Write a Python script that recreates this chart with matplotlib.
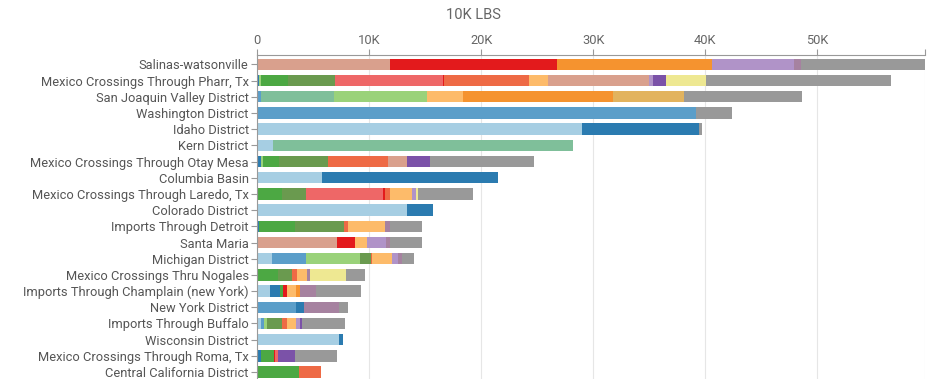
import matplotlib
matplotlib.use("Agg")
import matplotlib.pyplot as plt

plt.rcParams['font.family'] = ['Roboto', 'DejaVu Sans']

# ---- data (values in thousands of lbs) ----
districts = [
    "Salinas-watsonville",
    "Mexico Crossings Through Pharr, Tx",
    "San Joaquin Valley District",
    "Washington District",
    "Idaho District",
    "Kern District",
    "Mexico Crossings Through Otay Mesa",
    "Columbia Basin",
    "Mexico Crossings Through Laredo, Tx",
    "Colorado District",
    "Imports Through Detroit",
    "Santa Maria",
    "Michigan District",
    "Mexico Crossings Thru Nogales",
    "Imports Through Champlain (new York)",
    "New York District",
    "Imports Through Buffalo",
    "Wisconsin District",
    "Mexico Crossings Through Roma, Tx",
    "Central California District",
]

salinas_keys = ["pink", "red", "orange", "lavender", "mauve", "gray"]
salinas_vals = [11.9, 14.9, 13.8, 7.3, 0.6, 11.1]

pharr_keys = ["dark_blue", "light_green", "green", "olive", "salmon", "red", "orange_red",
              "light_orange", "pink", "lavender", "purple", "yellow", "gray"]
pharr_vals = [0.15, 0.2, 2.45, 4.2, 9.6, 0.1, 7.6, 1.7, 9.0, 0.3, 1.2, 3.6, 16.5]

sanjoaquin_keys = ["mid_blue", "teal", "light_green", "light_orange", "orange", "tan", "gray"]
sanjoaquin_vals = [0.36, 6.54, 8.3, 3.2, 13.4, 6.3, 10.5]

washington_keys = ["mid_blue", "gray"]
washington_vals = [39.2, 3.2]

idaho_keys = ["light_blue", "dark_blue", "gray"]
idaho_vals = [29.0, 10.4, 0.3]

kern_keys = ["light_blue", "teal"]
kern_vals = [1.4, 26.8]

otay_keys = ["dark_blue", "light_green", "green", "olive", "orange_red", "pink", "purple", "gray"]
otay_vals = [0.36, 0.14, 1.5, 4.3, 5.4, 1.7, 2.0, 9.3]

columbia_keys = ["light_blue", "dark_blue"]
columbia_vals = [5.8, 15.7]

laredo_keys = ["green", "olive", "salmon", "red", "orange_red", "light_orange", "lavender",
               "yellow", "gray"]
laredo_vals = [2.2, 2.2, 6.8, 0.2, 0.5, 1.9, 0.4, 0.2, 4.9]

colorado_keys = ["light_blue", "dark_blue"]
colorado_vals = [13.4, 2.3]

detroit_keys = ["dark_blue", "green", "olive", "orange_red", "light_orange", "mauve", "gray"]
detroit_vals = [0.2, 3.2, 4.4, 0.3, 3.3, 0.5, 2.8]

santamaria_keys = ["pink", "red", "light_orange", "lavender", "mauve", "gray"]
santamaria_vals = [7.1, 1.65, 1.1, 1.65, 0.4, 2.8]

michigan_keys = ["light_blue", "mid_blue", "light_green", "olive", "orange_red", "light_orange",
                 "lavender", "mauve", "gray"]
michigan_vals = [1.3, 3.1, 4.8, 0.95, 0.15, 1.75, 0.55, 0.3, 1.1]

nogales_keys = ["green", "olive", "orange_red", "light_orange", "mauve", "yellow", "gray"]
nogales_vals = [1.9, 1.2, 0.5, 0.9, 0.2, 3.25, 1.65]

champlain_keys = ["light_blue", "dark_blue", "green", "red", "light_orange", "orange", "mauve", "gray"]
champlain_vals = [1.16, 0.89, 0.3, 0.3, 0.85, 0.3, 1.5, 4.0]

newyork_keys = ["mid_blue", "dark_blue", "mauve", "gray"]
newyork_vals = [3.5, 0.7, 3.15, 0.75]

buffalo_keys = ["light_blue", "mid_blue", "light_green", "olive", "orange_red", "light_orange",
                "lavender", "purple", "gray"]
buffalo_vals = [0.4, 0.2, 0.25, 1.4, 0.4, 0.8, 0.35, 0.25, 3.8]

wisconsin_keys = ["light_blue", "dark_blue"]
wisconsin_vals = [7.3, 0.35]

roma_keys = ["dark_blue", "green", "red", "salmon", "purple", "gray"]
roma_vals = [0.4, 1.1, 0.15, 0.2, 1.55, 3.7]

centralca_keys = ["green", "orange_red"]
centralca_vals = [3.75, 1.95]

x_ticks = [0, 10, 20, 30, 40, 50]

# ---- style ----
colors = {
    "light_blue": "#a6cee3",
    "mid_blue": "#5b9ec9",
    "dark_blue": "#2b7bb0",
    "teal": "#7fbf9a",
    "light_green": "#9ad27a",
    "green": "#4ca843",
    "olive": "#6a9a4f",
    "salmon": "#ee6767",
    "orange_red": "#ee6a45",
    "pink": "#d9a08d",
    "red": "#e31a1c",
    "light_orange": "#fdbb6a",
    "orange": "#f5932f",
    "tan": "#e2b35e",
    "lavender": "#b093c8",
    "purple": "#7b52a8",
    "mauve": "#a682a0",
    "yellow": "#eee892",
    "gray": "#999999",
}

rows = [
    (salinas_keys, salinas_vals), (pharr_keys, pharr_vals),
    (sanjoaquin_keys, sanjoaquin_vals), (washington_keys, washington_vals),
    (idaho_keys, idaho_vals), (kern_keys, kern_vals), (otay_keys, otay_vals),
    (columbia_keys, columbia_vals), (laredo_keys, laredo_vals),
    (colorado_keys, colorado_vals), (detroit_keys, detroit_vals),
    (santamaria_keys, santamaria_vals), (michigan_keys, michigan_vals),
    (nogales_keys, nogales_vals), (champlain_keys, champlain_vals),
    (newyork_keys, newyork_vals), (buffalo_keys, buffalo_vals),
    (wisconsin_keys, wisconsin_vals), (roma_keys, roma_vals),
    (centralca_keys, centralca_vals),
]

fig = plt.figure(figsize=(9.35, 3.79), dpi=100)
ax = fig.add_axes([257 / 935, 0.0, (925 - 257) / 935, 1 - 55 / 379])

for i, (keys, vals) in enumerate(rows):
    left = 0.0
    for k, v in zip(keys, vals):
        ax.barh(i, v, left=left, height=0.7, color=colors[k], linewidth=0, zorder=2)
        left += v

ax.set_xlim(0, 59.6)
ax.set_ylim(19.43, -0.58)
ax.set_yticks(range(len(districts)))
ax.set_yticklabels(districts)

ax.xaxis.tick_top()
ax.set_xticks(x_ticks + [59.6])
ax.set_xticklabels([("0" if t == 0 else f"{t}K") for t in x_ticks] + [""])

for s in ["right", "bottom"]:
    ax.spines[s].set_visible(False)
for s in ["top", "left"]:
    ax.spines[s].set_color("#999999")
    ax.spines[s].set_linewidth(0.8)

ax.tick_params(axis='x', colors="#999999", labelcolor="#666666", labelsize=9.3,
               length=4, width=0.8, pad=2)
ax.tick_params(axis='y', colors="#999999", labelcolor="#555555", labelsize=9.3,
               length=4, width=0.8, pad=2)
ax.grid(axis='x', color="#e6e6e6", linewidth=0.8, zorder=0)
ax.set_axisbelow(True)

fig.text(473 / 935, 1 - 15 / 379, "10K LBS", ha='center', va='center', fontsize=10.5, color="#666666")

fig.savefig("out.png", dpi=100)
